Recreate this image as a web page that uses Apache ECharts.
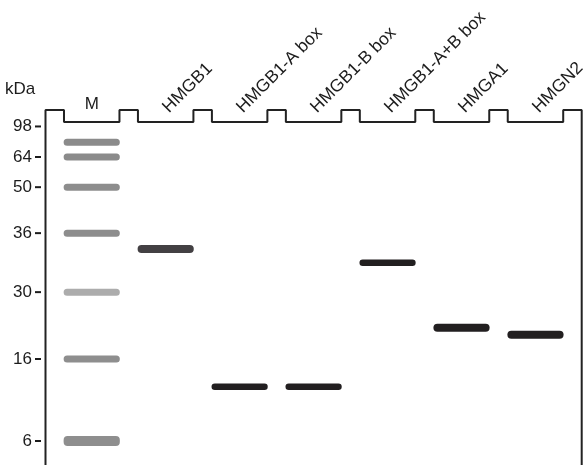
<!DOCTYPE html>
<html>
<head>
<meta charset="utf-8">
<script src="https://cdn.jsdelivr.net/npm/echarts@6/dist/echarts.min.js"></script>
<style>
  html, body { margin: 0; padding: 0; background: #fff; }
  #gel { width: 586px; height: 465px; }
</style>
</head>
<body>
<div id="gel"></div>
<script>
/* ---------------- data (migration in % of gel run, 0 = bottom of well) ---------------- */
var lanes = ['M', 'HMGB1', 'HMGB1-A box', 'HMGB1-B box', 'HMGB1-A+B box', 'HMGA1', 'HMGN2'];
var markerLabels = ['98', '64', '50', '36', '30', '16', '6'];
var markerTickPos = [1.3, 10.2, 19.0, 32.4, 49.6, 69.1, 93.0];
var markerBandPos = [5.9, 10.2, 19.0, 32.4, 49.6, 69.1, 93.0];
var sampleBandPos = [37.0, 77.2, 77.2, 41.0, 60.0, 62.0];   // lanes 1..6

/* ---------------- look ---------------- */
var FONT = 'Liberation Sans';
var INK = '#1c1c1c';
var WELL_TOP = -3.5, GEL_END = 100;
var LANE_HALF = 0.375, EDGE = 0.625, BAND_W = 0.76;
// band thickness (px) and colour
var markerStyle = [
  {h: 7, c: '#8b8b8b'}, {h: 7, c: '#8b8b8b'}, {h: 7, c: '#8d8d8d'}, {h: 7, c: '#8d8d8d'},
  {h: 7, c: '#acacac'}, {h: 7, c: '#8e8e8e'}, {h: 10, c: '#8e8e8e'}
];
var sampleStyle = [
  {h: 8, c: '#434043'}, {h: 6.5, c: '#221f20'}, {h: 6.5, c: '#221f20'}, {h: 6.5, c: '#221f20'},
  {h: 8, c: '#221f20'}, {h: 8, c: '#221f20'}
];

// bands: [lane, migration, colour, thickness]
var bands = [];
markerBandPos.forEach(function (p, i) {
  bands.push([0, p, markerStyle[i].c, markerStyle[i].h]);
});
sampleBandPos.forEach(function (p, i) {
  bands.push([i + 1, p, sampleStyle[i].c, sampleStyle[i].h]);
});

// gel outline with the wells along the top
var outline = [[-EDGE, GEL_END], [-EDGE, WELL_TOP]];
for (var i = 0; i < lanes.length; i++) {
  outline.push([i - LANE_HALF, WELL_TOP], [i - LANE_HALF, 0], [i + LANE_HALF, 0], [i + LANE_HALF, WELL_TOP]);
}
outline.push([lanes.length - 1 + EDGE, WELL_TOP], [lanes.length - 1 + EDGE, GEL_END]);

var laneIdx = lanes.map(function (d, i) { return i; }).slice(1);

var chart = echarts.init(document.getElementById('gel'), null, {renderer: 'canvas'});
var option = {
  animation: false,
  grid: {left: 45.5, right: 4.3, top: 110, bottom: 0, outerBoundsMode: 'none', containLabel: false},
  graphic: [{
    type: 'text', left: 5, top: 81,
    style: {text: 'kDa', font: '17px "Liberation Sans"', fill: INK}
  }],
  xAxis: [{
    type: 'value', position: 'top', min: -EDGE, max: lanes.length - 1 + EDGE,
    axisLine: {show: false}, axisTick: {show: false}, splitLine: {show: false},
    axisLabel: {
      customValues: laneIdx, rotate: 45, margin: 0,
      fontFamily: FONT, fontSize: 17.5, color: INK,
      formatter: function (v) { return lanes[Math.round(v)]; }
    }
  }, {
    type: 'value', position: 'top', offset: 0, min: -EDGE, max: lanes.length - 1 + EDGE,
    axisLine: {show: false}, axisTick: {show: false}, splitLine: {show: false},
    axisLabel: {
      customValues: [0], margin: -3,
      fontFamily: FONT, fontSize: 17, color: INK,
      formatter: function () { return lanes[0]; }
    }
  }],
  yAxis: {
    type: 'value', inverse: true, min: WELL_TOP, max: GEL_END,
    axisLine: {show: false}, splitLine: {show: false}, axisTick: {show: false},
    axisLabel: {
      customValues: markerTickPos, margin: 4.5,
      fontFamily: FONT, fontSize: 17, color: INK,
      formatter: function (v) { return '{n|' + markerLabels[markerTickPos.indexOf(v)] + '}{t|}'; },
      rich: {
        n: {fontFamily: FONT, fontSize: 17, color: INK, padding: [0, 3, 0, 0]},
        t: {width: 6, height: 2, backgroundColor: INK}
      }
    }
  },
  series: [{
    type: 'line', data: outline, symbol: 'none', clip: false,
    lineStyle: {color: '#222', width: 2}
  }, {
    type: 'custom', data: bands,
    renderItem: function (params, api) {
      var c = api.coord([api.value(0), api.value(1)]);
      var w = api.size([BAND_W, 0])[0];
      var h = api.value(3);
      return {
        type: 'rect',
        shape: {x: c[0] - w / 2, y: c[1] - h / 2, width: w, height: h, r: Math.min(h / 2, 4)},
        style: {fill: api.value(2)}
      };
    },
    encode: {x: 0, y: 1}
  }]
};
chart.setOption(option);
</script>
</body>
</html>
